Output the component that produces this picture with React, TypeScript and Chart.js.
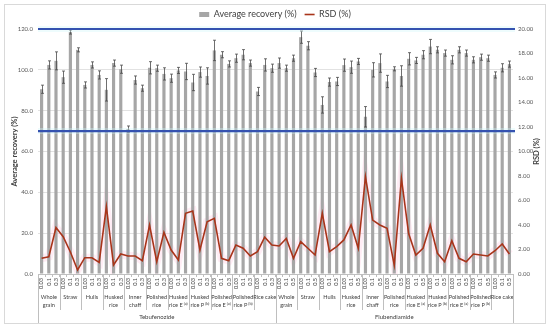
import React, { useEffect, useRef } from 'react';
import { Chart, registerables } from 'chart.js';

Chart.register(...registerables);

const FONT = 'Lato, "Open Sans", sans-serif';

const compounds = ['Tebufenozide', 'Flubendiamide'];
const compoundLevels = [
  ['0.03', '0.1', '0.3'],
  ['0.03', '0.1', '0.5'],
];
const matrixLine1 = ['Whole', 'Straw', 'Hulls', 'Husked', 'Inner', 'Polished', 'Husked', 'Husked', 'Polished', 'Polished', 'Rice cake'];
const matrixLine2 = ['grain', '', '', 'rice', 'chaff', 'rice', 'rice E', 'rice P', 'rice E', 'rice P', ''];
const matrixSup = ['', '', '', '', '', '', '(a)', '(b)', '(a)', '(b)', ''];

// Average recovery (%) — Tebufenozide (33) then Flubendiamide (33)
const recovery = [
  90.5, 102.4, 104.4, 96.4, 118.5, 109.8, 92.6, 102.4, 97.5, 90.2, 103.3, 100.3,
  71.0, 95.0, 91.0, 101.0, 100.8, 98.0, 95.9, 99.7, 99.2, 93.8, 98.9, 97.0,
  109.5, 107.4, 102.9, 105.7, 107.4, 103.3, 89.4, 102.4, 100.8,
  103.3, 100.8, 105.7, 116.0, 111.8, 98.7, 82.8, 94.0, 94.3, 102.3, 101.3, 104.1,
  77.0, 100.0, 103.3, 94.3, 100.5, 97.0, 105.4, 104.6, 107.4, 111.4, 109.8, 108.2,
  104.9, 109.8, 108.2, 104.9, 106.2, 105.7, 97.5, 101.0, 102.8,
];
// Standard deviation shown as error bars
const recoverySd = [
  2.0, 2.0, 4.4, 3.0, 1.0, 1.0, 1.5, 1.5, 2.0, 5.5, 1.5, 2.0,
  1.5, 2.0, 1.5, 3.0, 1.5, 3.0, 2.0, 1.5, 4.0, 4.0, 2.5, 4.0,
  5.0, 1.5, 1.5, 2.0, 2.5, 1.5, 2.0, 3.0, 2.0,
  2.5, 1.5, 1.5, 3.0, 2.0, 2.0, 4.0, 2.0, 2.0, 3.0, 3.0, 1.5,
  5.0, 3.5, 4.5, 3.0, 1.0, 5.0, 3.0, 1.5, 2.0, 3.5, 1.5, 1.5,
  2.0, 1.5, 1.5, 1.5, 1.5, 1.5, 1.5, 2.0, 1.5,
];
// RSD (%)
const rsd = [
  1.28, 1.41, 3.8, 3.05, 1.8, 0.33, 1.33, 1.33, 0.95, 5.5, 0.73, 1.63,
  1.47, 1.47, 1.09, 4.0, 1.0, 3.4, 1.96, 1.14, 4.95, 5.14, 1.96, 4.27,
  4.54, 1.28, 1.09, 2.37, 2.1, 1.47, 1.82, 3.0, 2.37,
  2.29, 2.9, 1.28, 2.64, 2.1, 1.55, 4.95, 1.82, 2.23, 2.78, 4.0, 2.1,
  7.94, 4.4, 4.0, 3.73, 0.73, 7.8, 3.3, 1.55, 2.1, 4.0, 1.69, 1.0,
  2.72, 1.28, 1.0, 1.63, 1.55, 1.47, 1.9, 2.45, 1.63,
];
const limitLines = [120, 70];

const categoryLabels = compounds.flatMap((_, ci) => matrixLine1.flatMap(() => compoundLevels[ci]));

const decorPlugin = {
  id: 'decor',
  beforeDraw(chart: any) {
    const { ctx, width, height } = chart;
    ctx.save();
    ctx.fillStyle = '#ffffff';
    ctx.fillRect(0, 0, width, height);
    ctx.strokeStyle = '#d9d9d9';
    ctx.lineWidth = 1;
    ctx.strokeRect(4.5, 4.5, width - 9, height - 9);
    ctx.restore();
  },
  afterDatasetDraw(chart: any, args: any) {
    if (args.index !== 0) return;
    const { ctx } = chart;
    const y = chart.scales.y;
    const meta = chart.getDatasetMeta(0);
    ctx.save();
    ctx.strokeStyle = '#4a4a4a';
    ctx.lineWidth = 0.8;
    meta.data.forEach((el: any, i: number) => {
      const xp = Math.round(el.x) + 0.5;
      const top = y.getPixelForValue(recovery[i] + recoverySd[i]);
      const bot = y.getPixelForValue(recovery[i] - recoverySd[i]);
      ctx.beginPath();
      ctx.moveTo(xp, top);
      ctx.lineTo(xp, bot);
      ctx.moveTo(xp - 1.5, top);
      ctx.lineTo(xp + 1.5, top);
      ctx.moveTo(xp - 1.5, bot);
      ctx.lineTo(xp + 1.5, bot);
      ctx.stroke();
    });
    ctx.restore();
  },
  afterDatasetsDraw(chart: any) {
    const { ctx, chartArea } = chart;
    const y = chart.scales.y;
    ctx.save();
    limitLines.forEach((v) => {
      const yp = y.getPixelForValue(v);
      ctx.strokeStyle = 'rgba(205,245,250,0.35)';
      ctx.lineWidth = 6;
      ctx.beginPath();
      ctx.moveTo(chartArea.left, yp);
      ctx.lineTo(chartArea.right + 2, yp);
      ctx.stroke();
      ctx.strokeStyle = '#3552b0';
      ctx.lineWidth = 2.2;
      ctx.beginPath();
      ctx.moveTo(chartArea.left, yp);
      ctx.lineTo(chartArea.right + 2, yp);
      ctx.stroke();
    });
    ctx.restore();
  },
  afterDraw(chart: any) {
    const { ctx, chartArea } = chart;
    const x = chart.scales.x;
    const step = x.getPixelForValue(1) - x.getPixelForValue(0);
    const base = chartArea.bottom;
    const LF = `5.6px ${FONT}`;
    const SF = `4px ${FONT}`;
    ctx.save();
    ctx.fillStyle = '#404040';
    ctx.textAlign = 'center';
    ctx.textBaseline = 'middle';
    const vline = (xp: number, len: number) => {
      const xx = Math.round(xp) + 0.5;
      ctx.strokeStyle = '#bfbfbf';
      ctx.lineWidth = 1;
      ctx.beginPath();
      ctx.moveTo(xx, base);
      ctx.lineTo(xx, base + len);
      ctx.stroke();
    };
    let idx = 0;
    compounds.forEach((name, ci) => {
      const levels = compoundLevels[ci];
      const cStart = idx;
      matrixLine1.forEach((l1, mi) => {
        const gStart = idx;
        const gEnd = idx + levels.length - 1;
        const left = x.getPixelForValue(gStart) - step / 2;
        const right = x.getPixelForValue(gEnd) + step / 2;
        const cx = (left + right) / 2;
        if (mi > 0) vline(left, 36);
        ctx.font = LF;
        ctx.textAlign = 'center';
        ctx.fillText(l1, cx, base + 23.5);
        const l2 = matrixLine2[mi];
        const sup = matrixSup[mi];
        if (l2) {
          if (sup) {
            ctx.font = LF;
            const w = ctx.measureText(l2).width;
            ctx.font = SF;
            const ws = ctx.measureText(sup).width;
            const sx = cx - (w + ws + 1) / 2;
            ctx.textAlign = 'left';
            ctx.font = LF;
            ctx.fillText(l2, sx, base + 31);
            ctx.font = SF;
            ctx.fillText(sup, sx + w + 1, base + 29.3);
            ctx.textAlign = 'center';
          } else {
            ctx.fillText(l2, cx, base + 31);
          }
        }
        idx += levels.length;
      });
      const cLeft = x.getPixelForValue(cStart) - step / 2;
      const cRight = x.getPixelForValue(idx - 1) + step / 2;
      vline(cLeft, 49);
      vline(cRight, 49);
      ctx.font = `6px ${FONT}`;
      ctx.textAlign = 'center';
      ctx.fillText(name, (cLeft + cRight) / 2, base + 43);
    });
    // axis titles
    const midY = (chartArea.top + chartArea.bottom) / 2;
    ctx.font = `bold 7.5px ${FONT}`;
    ctx.fillStyle = '#404040';
    ctx.translate(15, midY);
    ctx.rotate(-Math.PI / 2);
    ctx.fillText('Average recovery (%)', 0, 0);
    ctx.setTransform(1, 0, 0, 1, 0, 0);
    ctx.translate(537, midY);
    ctx.rotate(-Math.PI / 2);
    ctx.fillText('RSD (%)', 0, 0);
    ctx.restore();
  },
};

export default function App() {
  const canvasRef = useRef<HTMLCanvasElement | null>(null);

  useEffect(() => {
    const canvas = canvasRef.current;
    if (!canvas) return;
    const tickFont = { family: FONT, size: 6 };
    const chart = new Chart(canvas, {
      type: 'bar',
      data: {
        labels: categoryLabels,
        datasets: [
          {
            type: 'bar',
            label: 'Average recovery (%)',
            data: recovery,
            backgroundColor: '#a6a6a6',
            borderWidth: 0,
            yAxisID: 'y',
            order: 2,
            pointStyle: 'rect',
            barPercentage: 0.44,
            categoryPercentage: 1,
          } as any,
          {
            type: 'line',
            label: 'RSD (%)',
            data: rsd,
            borderColor: '#a8341a',
            backgroundColor: '#a8341a',
            borderWidth: 1.6,
            pointRadius: 0,
            tension: 0,
            fill: false,
            yAxisID: 'y1',
            order: 1,
            pointStyle: 'line',
          } as any,
          {
            type: 'line',
            label: 'glow',
            data: rsd,
            borderColor: 'rgba(255,185,215,0.25)',
            backgroundColor: 'rgba(255,185,215,0.25)',
            borderWidth: 8,
            pointRadius: 0,
            tension: 0,
            fill: false,
            yAxisID: 'y1',
            order: 3,
          } as any,
        ],
      },
      options: {
        animation: false,
        responsive: false,
        maintainAspectRatio: false,
        events: [],
        layout: { padding: { top: 2, left: 0, right: 0, bottom: 0 } },
        plugins: {
          tooltip: { enabled: false },
          legend: {
            position: 'top',
            labels: {
              usePointStyle: true,
              pointStyleWidth: 10,
              boxHeight: 5,
              padding: 8,
              color: '#404040',
              font: { family: FONT, size: 9 },
              filter: (item: any) => item.text !== 'glow',
              sort: (a: any, b: any) => a.datasetIndex - b.datasetIndex,
            },
          },
        },
        scales: {
          x: {
            type: 'category',
            offset: true,
            grid: { display: true, drawOnChartArea: false, drawTicks: true, tickLength: 3, color: '#bfbfbf', offset: true },
            border: { display: true, color: '#bfbfbf' },
            ticks: { autoSkip: false, minRotation: 90, maxRotation: 90, padding: 1, font: { family: FONT, size: 5.6 }, color: '#404040' },
            afterFit: (s: any) => { s.height = 54; },
          },
          y: {
            position: 'left',
            min: 0,
            max: 120,
            ticks: { stepSize: 20, padding: 5, font: tickFont, color: '#595959', callback: (v: any) => Number(v).toFixed(1) },
            grid: { color: '#e2e2e2', drawTicks: false },
            border: { display: false },
            afterFit: (s: any) => { s.width = 38; },
          },
          y1: {
            position: 'right',
            min: 0,
            max: 20,
            ticks: { stepSize: 2, padding: 5, font: tickFont, color: '#595959', callback: (v: any) => Number(v).toFixed(2) },
            grid: { display: false, drawTicks: false },
            border: { display: false },
            afterFit: (s: any) => { s.width = 37; },
          },
        },
      },
      plugins: [decorPlugin],
    });
    return () => chart.destroy();
  }, []);

  return (
    <div style={{ position: 'fixed', left: 0, top: 0, width: 550, height: 328, background: '#fff' }}>
      <canvas ref={canvasRef} width={550} height={328} style={{ display: 'block' }} />
    </div>
  );
}
